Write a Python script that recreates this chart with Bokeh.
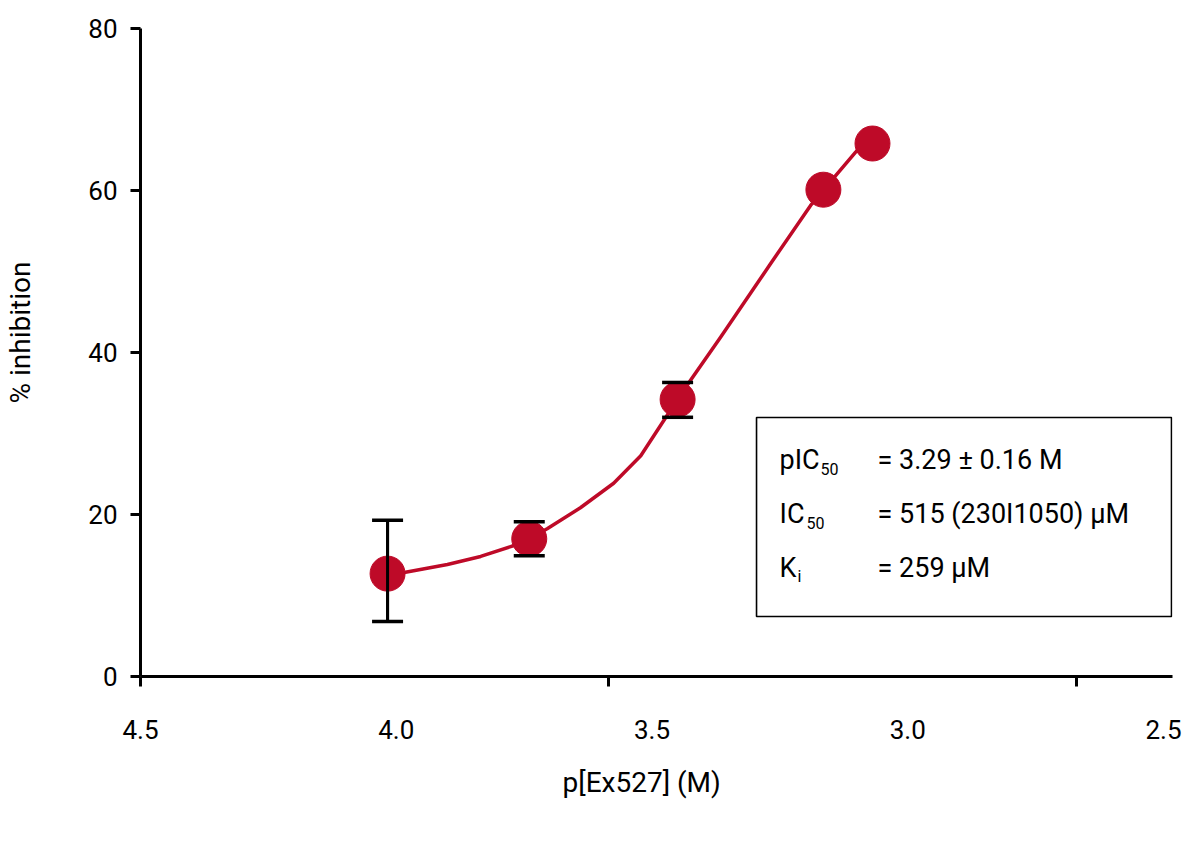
from bokeh.plotting import figure
from bokeh.models import (Range1d, FixedTicker, ColumnDataSource, Whisker, TeeHead,
                          Label, BoxAnnotation, PrintfTickFormatter, Title)
from bokeh.embed import file_html
from bokeh.resources import INLINE

# ---------------- data ----------------
conc = [4.017, 3.740, 3.450, 3.165, 3.069]          # p[Ex527] (M)
inhibition = [12.7, 17.0, 34.2, 60.1, 65.8]         # % inhibition
err_upper = [19.3, 19.1, 36.3, None, None]
err_lower = [6.8, 14.9, 32.0, None, None]

fit_x = [4.017, 3.982, 3.900, 3.835, 3.770, 3.740, 3.705, 3.640, 3.575, 3.522,
         3.477, 3.450, 3.425, 3.366, 3.268, 3.190, 3.164, 3.141, 3.102, 3.085]
fit_y = [12.7, 12.88, 13.83, 14.82, 16.17, 17.0, 18.23, 20.83, 23.86, 27.25,
         31.60, 34.2, 36.54, 41.89, 50.99, 58.15, 60.09, 61.85, 64.73, 65.9]

x_tick_values = [4.5, 4.0, 3.5, 3.0, 2.5]
x_tick_marks = [4.5, 3.585, 2.670]
y_ticks = [0, 20, 40, 60, 80]

stat_names = ["pIC", "IC", "K"]
stat_subs = ["50", "50", "i"]
stat_values = ["= 3.29 ± 0.16 M", "= 515 (230I1050) µM", "= 259 µM"]

x_title = "p[Ex527] (M)"
y_title = "% inhibition"

# ---------------- style ----------------
RED = "#BE0A28"
FONT = "Roboto"

p = figure(width=1184, height=843,
           x_range=Range1d(4.5, 2.4825), y_range=Range1d(0, 80),
           output_backend="svg", toolbar_location=None,
           min_border_left=140, min_border_right=12,
           min_border_top=28, min_border_bottom=167)
p.grid.visible = False
p.outline_line_color = None
p.background_fill_color = "white"
p.border_fill_color = "white"

# x axis
xa = p.xaxis[0]
xa.ticker = FixedTicker(ticks=x_tick_values, minor_ticks=x_tick_marks)
xa.formatter = PrintfTickFormatter(format="%.1f")
xa.major_tick_out = 0
xa.major_tick_in = 0
xa.minor_tick_out = 10
xa.minor_tick_in = 0
xa.minor_tick_line_width = 3
xa.minor_tick_line_color = "black"
xa.axis_line_width = 3
xa.axis_line_color = "black"
xa.major_label_standoff = 33
xa.major_label_text_font = FONT
xa.major_label_text_font_size = "26px"
xa.major_label_text_color = "black"

# y axis
ya = p.yaxis[0]
ya.ticker = FixedTicker(ticks=y_ticks, minor_ticks=[])
ya.major_tick_out = 10
ya.major_tick_in = 0
ya.major_tick_line_width = 3
ya.major_tick_line_color = "black"
ya.minor_tick_out = 0
ya.minor_tick_in = 0
ya.axis_line_width = 3
ya.axis_line_color = "black"
ya.major_label_standoff = 13
ya.major_label_text_font = FONT
ya.major_label_text_font_size = "26px"
ya.major_label_text_color = "black"

# axis titles (an empty spacer pushes the y title outwards)
p.add_layout(Title(text=" ", text_font_size="2px", standoff=45), "left")
p.add_layout(Title(text=y_title, align="left", offset=273, standoff=0,
                   vertical_align="bottom",
                   text_font=FONT, text_font_size="28px",
                   text_font_style="normal", text_color="black"), "left")
p.add_layout(Title(text=x_title, align="left", offset=422, standoff=48,
                   vertical_align="top",
                   text_font=FONT, text_font_size="28px",
                   text_font_style="normal", text_color="black"), "below")

# fitted curve
p.line(fit_x, fit_y, line_color=RED, line_width=3.5, line_join="round")

# error bars
idx = [i for i in range(len(conc)) if err_upper[i] is not None]
err_src = ColumnDataSource(data=dict(
    x=[conc[i] for i in idx],
    upper=[err_upper[i] for i in idx],
    lower=[err_lower[i] for i in idx]))
wide = [i for i in idx if (err_upper[i] - err_lower[i]) > 5]
wide_src = ColumnDataSource(data=dict(
    x=[conc[i] for i in wide],
    upper=[err_upper[i] for i in wide],
    lower=[err_lower[i] for i in wide]))

p.segment(x0="x", y0="lower", x1="x", y1="upper", source=err_src,
          line_color="black", line_width=3)

# data points
p.scatter(conc, inhibition, size=35, fill_color=RED, line_color=RED)

p.segment(x0="x", y0="lower", x1="x", y1="upper", source=wide_src,
          line_color="black", line_width=3)

wh = Whisker(base="x", upper="upper", lower="lower", source=err_src,
             line_alpha=0, level="overlay",
             upper_head=TeeHead(size=31, line_width=3.5, line_color="black"),
             lower_head=TeeHead(size=31, line_width=3.5, line_color="black"))
p.add_layout(wh)

# statistics box
box = BoxAnnotation(left=3.2957, right=2.4845, top=31.98, bottom=7.41,
                    fill_alpha=0, line_color="black", line_alpha=1.0,
                    line_width=1.6, level="overlay")
p.add_layout(box)

name_x = 3.2507
value_x = 3.0591
sub_x = [3.1706, 3.1980, 3.2155]
base_y = [26.79, 20.12, 13.45]
sub_y = [25.67, 19.01, 12.34]
for i in range(3):
    p.add_layout(Label(x=name_x, y=base_y[i], text=stat_names[i],
                       text_font=FONT, text_font_size="27px", text_color="black",
                       text_align="left", text_baseline="alphabetic"))
    p.add_layout(Label(x=sub_x[i], y=sub_y[i], text=stat_subs[i],
                       text_font=FONT, text_font_size="16px", text_color="black",
                       text_align="left", text_baseline="alphabetic"))
    p.add_layout(Label(x=value_x, y=base_y[i], text=stat_values[i],
                       text_font=FONT, text_font_size="27px", text_color="black",
                       text_align="left", text_baseline="alphabetic"))

open("out.html", "w").write(file_html(p, INLINE))
